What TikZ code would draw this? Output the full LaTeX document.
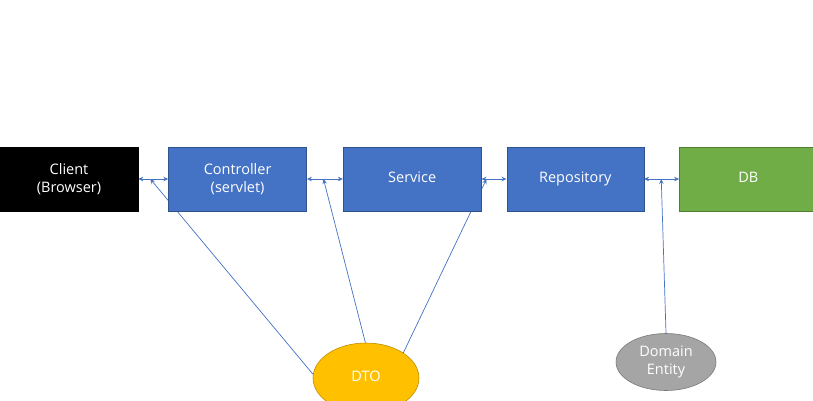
\documentclass[tikz,border=0pt]{standalone}
\usepackage{fontspec}
\setmainfont{Open Sans}
\usetikzlibrary{positioning,calc,arrows.meta,shapes.geometric,backgrounds}
\definecolor{boxblue}{HTML}{4472C4}
\definecolor{boxline}{HTML}{2F528F}
\definecolor{dbgreen}{HTML}{70AD47}
\definecolor{dbline}{HTML}{507E32}
\definecolor{dtoyellow}{HTML}{FFC000}
\definecolor{dtoline}{HTML}{BC8C00}
\definecolor{entgray}{HTML}{A5A5A5}
\definecolor{entline}{HTML}{787878}

\begin{document}
\begin{tikzpicture}[x=1pt,y=-1pt,font=\fontsize{14.5}{18.5}\selectfont,
  box/.style={draw=boxline,fill=boxblue,text=white,minimum width=138pt,minimum height=64pt,inner sep=0pt,line width=0.6pt},
  twoline/.style={align=center,yshift=0pt},
  oneline/.style={text height=0.72em,text depth=-2pt},
  blob/.style={ellipse,text=white,inner sep=0pt,line width=0.6pt},
  link/.style={draw=boxblue,line width=0.7pt},
  tip/.style={-{Stealth[length=5pt,width=4.5pt]}},
  both/.style={{Stealth[length=5pt,width=4.5pt]}-{Stealth[length=5pt,width=4.5pt]}}]
  \useasboundingbox (0,0) rectangle (813,401);

  \node[box,twoline,fill=black,draw=black] (client) at (69,179) {Client\\(Browser)};
  \node[box,twoline,right=30pt of client] (ctrl) {Controller\\(servlet)};
  \node[box,oneline,right=36pt of ctrl] (svc) {Service};
  \node[box,oneline,right=25pt of svc,minimum width=137pt] (repo) {Repository};
  \node[box,oneline,right=35pt of repo,fill=dbgreen,draw=dbline] (db) {DB};

  \node[blob,oneline,fill=dtoyellow,draw=dtoline,minimum width=106pt,minimum height=70pt] (dto) at (366,378) {DTO};
  \node[blob,twoline,fill=entgray,draw=entline,minimum width=100pt,minimum height=57pt] (dom) at (666,362) {Domain\\Entity};

  % tap points on the request arrows
  \coordinate (t1) at ($(client.east)!0.4!(ctrl.west)$);
  \coordinate (t2) at ($(ctrl.east)!0.46!(svc.west)$);
  \coordinate (t3) at ($(svc.east)!0.2!(repo.west)$);
  \coordinate (t4) at ($(repo.east)!0.49!(db.west)$);

  \begin{scope}[on background layer]
    \draw[link,both] (client) -- (ctrl);
    \draw[link,both] (ctrl) -- (svc);
    \draw[link,both] (svc) -- (repo);
    \draw[link,both] (repo) -- (db);

    \draw[link,tip] (dto.176) -- (t1);
    \draw[link,tip] (dto.91) -- (t2);
    \draw[link,tip] (dto.34) -- (t3);
    \draw[link,tip] (dom.north) -- (t4);
  \end{scope}
\end{tikzpicture}
\end{document}
